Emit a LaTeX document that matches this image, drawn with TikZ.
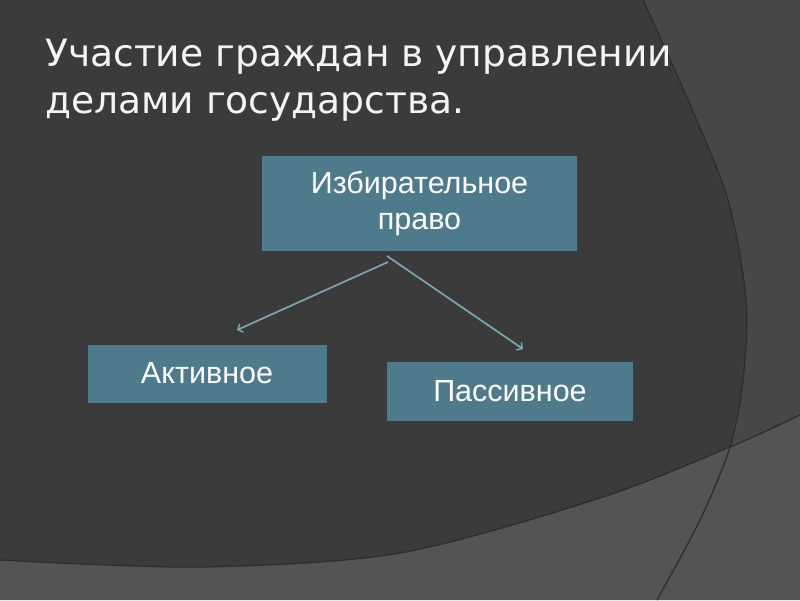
\documentclass[tikz,border=0pt]{standalone}
\usepackage{fontspec}
\setmainfont{Liberation Sans}
\newfontfamily\titlefont{DejaVu Sans}
\usetikzlibrary{arrows.meta}
\definecolor{bgdark}{HTML}{3B3B3B}
\definecolor{bgright}{HTML}{474747}
\definecolor{bgbottom}{HTML}{545454}
\definecolor{edgec}{HTML}{2E2E2E}
\definecolor{boxteal}{HTML}{4E7B8B}
\definecolor{arrowc}{HTML}{7AA7B7}
\definecolor{titlec}{HTML}{F4F4F4}
\tikzset{
  box/.style={fill=boxteal, text=white, font=\fontsize{30.5}{36}\selectfont, align=center, inner sep=0pt},
  titletext/.style={anchor=base west, text=titlec, font=\titlefont\fontsize{37.6}{46}\selectfont, inner sep=0pt},
  conn/.style={draw=arrowc, line width=1.7pt, -{Straight Barb[length=4pt,width=9pt,line width=1.5pt]}},
  edge/.style={draw=edgec, line width=1.3pt}
}
\begin{document}
\begin{tikzpicture}[x=1pt,y=-1pt]
\useasboundingbox (0,0) rectangle (800,600);
\fill[bgdark] (0,0) rectangle (800,600);
% upper right lighter region
\fill[bgright] plot[smooth] coordinates {(643,0) (688,100) (728,200) (746,300) (743,380) (730,447)} -- (800,415) -- (800,0) -- cycle;
% bottom lighter region
\fill[bgbottom] plot[smooth] coordinates {(0,560) (200,567) (400,553) (600,498) (730,447) (800,415)} -- (800,600) -- (0,600) -- cycle;
% outlines
\draw[edge] plot[smooth] coordinates {(0,560) (200,567) (400,553) (600,498) (730,447) (800,415)};
\draw[edge] plot[smooth] coordinates {(643,0) (688,100) (728,200) (746,300) (743,380) (730,447) (700,520) (657,600)};

% title
\node[titletext] (t1) at (45,66) {Участие граждан в управлении};
\node[titletext] (t2) at (45,113) {делами государства.};

% boxes
\node[box, minimum width=315pt, minimum height=95pt] (top) at (419.5,203.5) {Избирательное\\право};
\node[box, minimum width=239pt, minimum height=58pt] (act) at (207,373.5) {Активное};
\node[box, minimum width=246pt, minimum height=59pt] (pas) at (510,391.5) {Пассивное};

% connectors
\coordinate (s1) at (388,262);
\coordinate (e1) at (237,330);
\coordinate (s2) at (387,256);
\coordinate (e2) at (523,349);
\draw[conn] (s1) -- (e1);
\draw[conn] (s2) -- (e2);
\end{tikzpicture}
\end{document}
